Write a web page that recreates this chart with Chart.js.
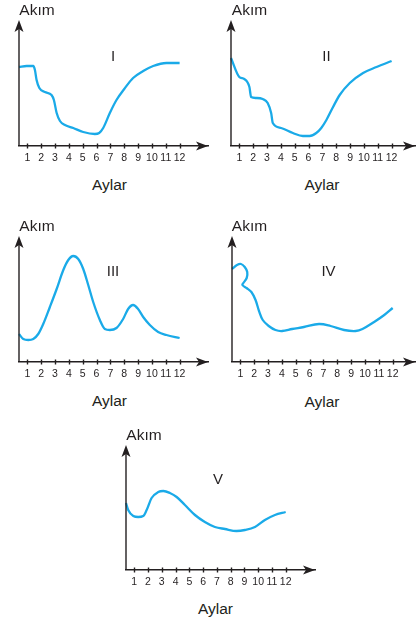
<!DOCTYPE html>
<html>
<head>
<meta charset="utf-8">
<script src="https://cdn.jsdelivr.net/npm/chart.js@4.4.1/dist/chart.umd.min.js"></script>
<style>
  html, body { margin: 0; padding: 0; background: #fff; }
  #page { position: relative; width: 417px; height: 622px; overflow: hidden; font-family: "Liberation Sans", Arial, sans-serif; color: #231f20; }
  canvas { position: absolute; }
  .lbl { position: absolute; transform: translate(-50%, -50%); font-size: 15.5px; line-height: 1; white-space: nowrap; }
  .rom { position: absolute; transform: translate(-50%, -50%); font-size: 15px; line-height: 1; }
</style>
</head>
<body>
<div id="page"></div>
<script>
// month ticks
const tickLabels = ['1', '2', '3', '4', '5', '6', '7', '8', '9', '10', '11', '12'];

// I
const ayI = [0.4, 0.95, 1.43, 1.55, 1.67, 1.87, 2.27, 2.75, 2.92, 3.12, 3.36, 3.72, 4.32, 5.04, 5.88, 6.19, 6.48, 6.96, 7.44, 8.0, 8.64, 9.37, 10.09, 11.05, 12.0];
const akimI = [79, 80, 80, 76, 66, 58, 54, 51, 46, 33, 25, 21, 18, 14, 12, 13, 18, 33, 46, 57, 68, 75, 80, 83, 83];

// II
const ayII = [0.4, 1.0, 1.36, 1.73, 1.85, 2.21, 2.69, 3.05, 3.3, 3.42, 4.02, 4.87, 5.59, 6.08, 6.56, 6.92, 7.29, 7.77, 8.25, 8.98, 9.94, 10.91, 12.0];
const akimII = [88, 69, 67, 59, 49, 48, 47, 43, 33, 23, 18, 13, 10, 10, 13, 18, 26, 39, 51, 63, 73, 79, 85];

// III
const ayIII = [0.4, 0.71, 1.07, 1.43, 1.79, 2.15, 2.63, 3.12, 3.6, 3.96, 4.32, 4.68, 5.04, 5.4, 5.76, 6.24, 6.6, 6.96, 7.44, 7.92, 8.28, 8.64, 9.0, 9.37, 9.85, 10.45, 11.05, 12.0];
const akimIII = [28, 23, 22, 23, 28, 38, 55, 73, 92, 102, 106, 103, 93, 77, 60, 42, 33, 32, 34, 43, 53, 57, 53, 45, 37, 30, 27, 24];

// IV (curls back near month 1.4)
const ayIV = [0.4, 0.76, 1.05, 1.32, 1.5, 1.46, 1.22, 1.15, 1.45, 1.8, 2.1, 2.35, 2.62, 3.05, 3.54, 4.02, 4.74, 5.59, 6.68, 7.52, 8.49, 9.33, 9.82, 10.66, 11.39, 12.0];
const akimIV = [93, 97, 98, 95, 90, 84, 79, 77, 74, 70, 62, 51, 42, 36, 32, 31, 33, 35, 38, 36, 32, 31, 33, 40, 47, 54];

// V
const ayV = [0.4, 0.56, 0.93, 1.29, 1.65, 1.9, 2.26, 2.74, 3.11, 3.59, 4.08, 4.68, 5.41, 6.13, 6.86, 7.59, 8.43, 9.04, 9.77, 10.49, 11.22, 12.0];
const akimV = [67, 60, 54, 53, 54, 60, 72, 78, 79, 77, 73, 65, 55, 48, 43, 41, 39, 40, 43, 50, 55, 58];

const panels = [
  { name: 'I',   ay: ayI,   akim: akimI,   ox: 19,  oy: 146, ty: 20,  rx: 208, xmax: 14.05, rom: [113, 55],  akimPos: [37, 9.5],   aylarPos: [109.5, 185] },
  { name: 'II',  ay: ayII,  akim: akimII,  ox: 231, oy: 146, ty: 20,  rx: 415, xmax: 13.69, rom: [326.5, 55], akimPos: [249.5, 9.5], aylarPos: [322, 185] },
  { name: 'III', ay: ayIII, akim: akimIII, ox: 19,  oy: 362, ty: 236, rx: 208, xmax: 14.05, rom: [113, 270], akimPos: [37, 225.5], aylarPos: [109.5, 401] },
  { name: 'IV',  ay: ayIV,  akim: akimIV,  ox: 232, oy: 362, ty: 236, rx: 415, xmax: 13.61, rom: [328.5, 270], akimPos: [249.5, 225.5], aylarPos: [322, 402], loop: true },
  { name: 'V',   ay: ayV,   akim: akimV,   ox: 126, oy: 570, ty: 445, rx: 315, xmax: 14.13, rom: [218, 478], akimPos: [144, 435], aylarPos: [215.5, 609] }
];

const ink = '#231f20';

// arrows on both axes + small cross ticks
const axesPlugin = {
  id: 'axesPlugin',
  afterDraw(chart) {
    const { ctx, chartArea: a } = chart;
    const xs = chart.scales.x;
    ctx.save();
    ctx.strokeStyle = ink;
    ctx.fillStyle = ink;
    ctx.lineWidth = 1.4;
    ctx.beginPath();
    ctx.moveTo(a.left, a.bottom);
    ctx.lineTo(a.left, a.top + 6);
    ctx.stroke();
    for (let v = 1; v <= 12; v++) {
      const px = Math.round(xs.getPixelForValue(v)) + 0.5;
      ctx.beginPath();
      ctx.moveTo(px, a.bottom - 2.5);
      ctx.lineTo(px, a.bottom + 2.5);
      ctx.stroke();
    }
    // x arrow
    ctx.beginPath();
    ctx.moveTo(a.right, a.bottom);
    ctx.lineTo(a.right - 12, a.bottom - 4.5);
    ctx.lineTo(a.right - 9, a.bottom);
    ctx.lineTo(a.right - 12, a.bottom + 4.5);
    ctx.closePath();
    ctx.fill();
    // y arrow
    ctx.beginPath();
    ctx.moveTo(a.left, a.top);
    ctx.lineTo(a.left - 4.5, a.top + 12);
    ctx.lineTo(a.left, a.top + 9);
    ctx.lineTo(a.left + 4.5, a.top + 12);
    ctx.closePath();
    ctx.fill();
    ctx.restore();
  }
};

const page = document.getElementById('page');

function addText(cls, txt, pos) {
  const d = document.createElement('div');
  d.className = cls;
  d.textContent = txt;
  d.style.left = pos[0] + 'px';
  d.style.top = pos[1] + 'px';
  page.appendChild(d);
}

panels.forEach(p => {
  const padL = 10, padT = 5, padR = 2, scaleH = 18;
  const canvas = document.createElement('canvas');
  const w = p.rx - p.ox + padL + padR;
  const h = p.oy - p.ty + padT + scaleH;
  canvas.width = w;
  canvas.height = h;
  canvas.style.width = w + 'px';
  canvas.style.height = h + 'px';
  canvas.style.left = (p.ox - padL) + 'px';
  canvas.style.top = (p.ty - padT) + 'px';
  page.appendChild(canvas);

  new Chart(canvas.getContext('2d'), {
    type: 'line',
    data: {
      datasets: [{
        data: p.ay.map((m, i) => ({ x: m, y: p.akim[i] })),
        borderColor: '#1aaae8',
        borderWidth: 2.3,
        pointRadius: 0,
        tension: 0.35,
        // the curl in IV goes backwards in x, so it keeps the plain spline
        cubicInterpolationMode: p.loop ? 'default' : 'monotone',
        fill: false,
        clip: 6
      }]
    },
    options: {
      responsive: false,
      animation: false,
      events: [],
      layout: { padding: { left: padL, top: padT, right: padR, bottom: 0 } },
      plugins: { legend: { display: false }, tooltip: { enabled: false } },
      scales: {
        x: {
          type: 'linear',
          min: 0.4,
          max: p.xmax,
          afterBuildTicks: s => { s.ticks = s.ticks.filter(t => t.value >= 1 && t.value <= 12); },
          afterFit: s => { s.height = scaleH; },
          grid: { display: false, drawTicks: false },
          border: { display: true, color: ink, width: 1.4 },
          ticks: {
            stepSize: 1,
            includeBounds: false,
            autoSkip: false,
            maxRotation: 0,
            padding: 6,
            color: ink,
            font: { family: '"Liberation Sans", Arial, sans-serif', size: 10.5, lineHeight: '12px' },
            callback: v => tickLabels[v - 1]
          }
        },
        y: {
          display: false,
          min: 0,
          max: p.oy - p.ty
        }
      }
    },
    plugins: [axesPlugin]
  });

  addText('lbl', 'Akım', p.akimPos);
  addText('lbl', 'Aylar', p.aylarPos);
  addText('rom', p.name, p.rom);
});
</script>
</body>
</html>
